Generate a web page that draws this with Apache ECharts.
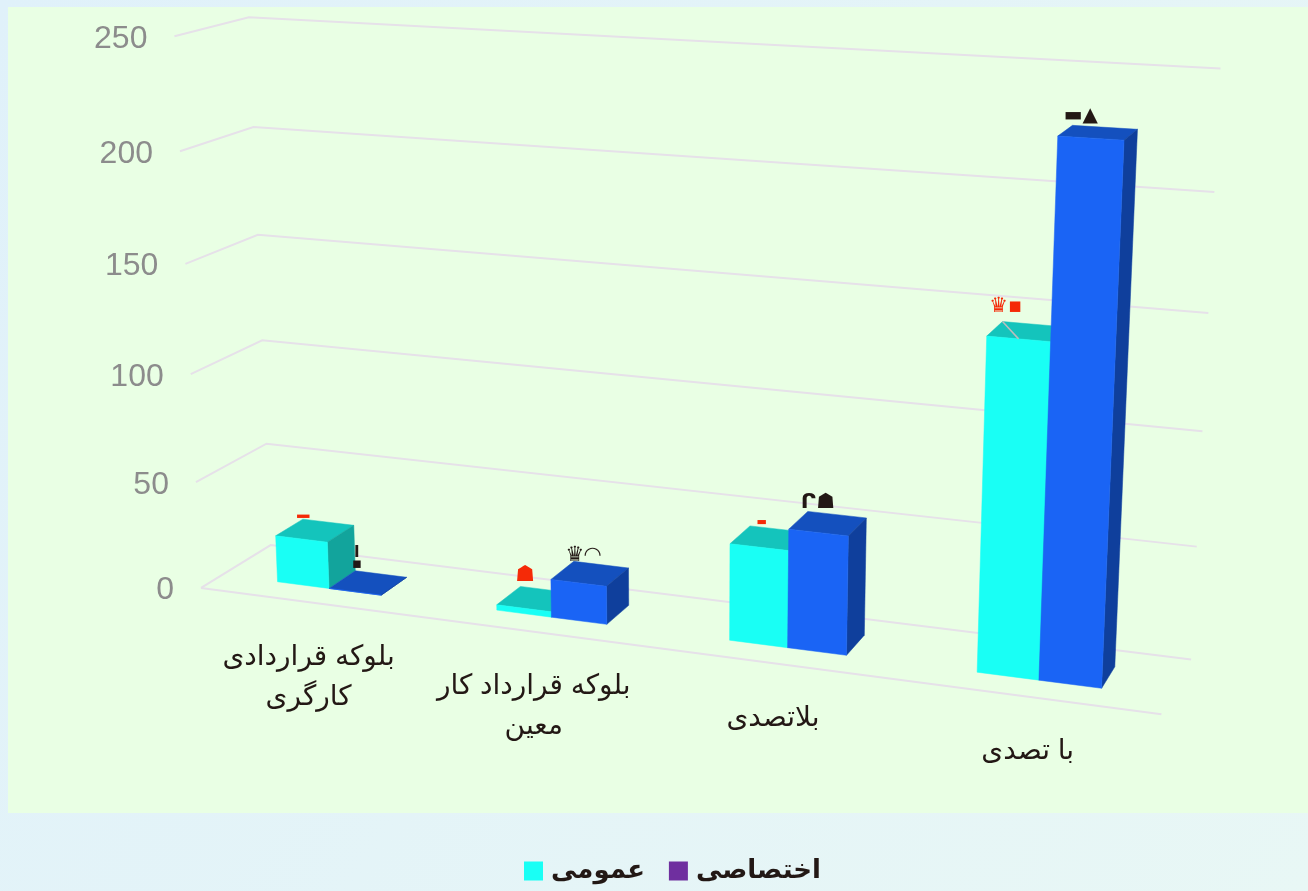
<!DOCTYPE html>
<html><head><meta charset="utf-8">
<style>html,body{margin:0;padding:0;background:#E6F6F8}#c{width:1308px;height:891px}</style>
<script src="https://cdn.jsdelivr.net/npm/echarts@6/dist/echarts.min.js"></script></head>
<body><div id="c"></div>
<script>
const categories = ['بلوکه قراردادی\nکارگری', 'بلوکه قرارداد کار\nمعین', 'بلاتصدی', 'با تصدی'];
const yTicks = [0, 50, 100, 150, 200, 250];
const publicValues = [22, 2.5, 43.5, 144];
const privateValues = [0, 17.5, 53, 227];
const publicName = 'عمومی';
const privateName = 'اختصاصی';
// The source's data labels are garbled glyphs, kept as look-alike text.
const publicLabels = ['━', '☗', '▬', '♛▪'];
const privateLabels = ['I\n▪', '♛◠', 'ᒋ☗', '▬▲'];

// layout
const GL = 8, GT = 7, GW = 1300, GH = 806;
const calib = [
 [0,0,1,270,545],[0,50,1,267,444],[0,100,1,263,341],[0,150,1,258,235],[0,200,1,252,127],[0,250,1,250,16],
 [0,0,0,202,588],[0,50,0,195,483],[0,100,0,189,372],[0,150,0,186,263],[0,200,0,182,153],[0,250,0,173,37],
 [1,0,1,1191,659],[1,50,1,1197,547],[1,100,1,1202,432],[1,150,1,1208,313],[1,200,1,1214,192],[1,250,1,1221,68],
 [1,0,0,1162,714]
];
function solve(A, b) {
  const n = b.length, M = A.map((r, i) => r.concat(b[i]));
  for (let i = 0; i < n; i++) {
    let p = i;
    for (let r = i + 1; r < n; r++) if (Math.abs(M[r][i]) > Math.abs(M[p][i])) p = r;
    [M[i], M[p]] = [M[p], M[i]];
    for (let r = 0; r < n; r++) if (r !== i) {
      const f = M[r][i] / M[i][i];
      for (let c = i; c <= n; c++) M[r][c] -= f * M[i][c];
    }
  }
  return M.map((r, i) => r[n] / r[i]);
}
const cam = (function () {
  const rows = [], rhs = [];
  calib.forEach(([u, t, d, x, y]) => {
    const v = t / 250, X = x / 1000, Y = y / 1000;
    rows.push([u, v, d, 1, 0, 0, 0, 0, -X * u, -X * v, -X * d]); rhs.push(X);
    rows.push([0, 0, 0, 0, u, v, d, 1, -Y * u, -Y * v, -Y * d]); rhs.push(Y);
  });
  const n = 11, A = [], b = [];
  for (let i = 0; i < n; i++) {
    A.push([]); let s = 0;
    for (let j = 0; j < n; j++) { let t = 0; rows.forEach(r => t += r[i] * r[j]); A[i].push(t); }
    rows.forEach((r, k) => s += r[i] * rhs[k]); b.push(s);
  }
  return solve(A, b);
})();
function project(u, v, d) {
  const w = cam[8] * u + cam[9] * v + cam[10] * d + 1;
  return [1000 * (cam[0] * u + cam[1] * v + cam[2] * d + cam[3]) / w,
          1000 * (cam[4] * u + cam[5] * v + cam[6] * d + cam[7]) / w];
}
// pixel from the axes -> normalised floor/wall coordinates -> perspective
function viaAxes(api, idx, val, offset, d) {
  const c = api.coord([idx, val]), band = api.size([1, 0])[0];
  return project((c[0] + offset * band - GL) / GW, (GT + GH - c[1]) / GH, d);
}
const D0 = 0.30, D1 = 0.70, BAR = 0.24;
const labelShift = {
  [publicName]: [[-25, -4], [-22, -15], [-17, -7], [-28, -18]],
  [privateName]: [[-24, -15], [-18, -9], [-19, -12], [-24, -12]]
};
const labelSize = {
  [publicName]: [20, 22, 11, 21],
  [privateName]: [15, 21, 21, 20]
};

function barItem(name, cols, sign, labels, labelColor) {
  return function (params, api) {
    const i = api.value(0), val = api.value(1);
    const o0 = sign < 0 ? -BAR : 0, o1 = sign < 0 ? 0 : BAR;
    const P = (o, t, d) => viaAxes(api, i, t, o, d);
    const fl = P(o0, 0, D0), fr = P(o1, 0, D0), br = P(o1, 0, D1);
    const tl = P(o0, val, D0), tr = P(o1, val, D0), tbl = P(o0, val, D1), tbr = P(o1, val, D1);
    const poly = (pts, fill) => ({ type: 'polygon', shape: { points: pts }, style: { fill, stroke: fill, lineWidth: 0.5 } });
    const children = [
      poly([tl, tr, tbr, tbl], cols[1]),
      poly([fr, br, tbr, tr], cols[2]),
      poly([fl, fr, tr, tl], cols[0])
    ];
    const s = labelShift[name][i], a = P((o0 + o1) / 2, val, D1), size = labelSize[name][i];
    children.push({ type: 'text', style: { text: labels[i], x: a[0] + s[0], y: a[1] + s[1], align: 'center', verticalAlign: 'middle', fill: labelColor, font: 'bold ' + size + 'px "DejaVu Sans"', lineHeight: 11 } });
    return { type: 'group', children };
  };
}
function frameItem(params, api) {
  const t = api.value(1);
  const a = viaAxes(api, 0, t, -0.5, 0), b = viaAxes(api, 0, t, -0.5, 1), c = viaAxes(api, 3, t, 0.5, 1);
  const st = { stroke: '#E6E1E9', lineWidth: 2, fill: null };
  const kids = [
    { type: 'polyline', shape: { points: [a, b, c] }, style: st },
    { type: 'text', style: { text: String(t), x: a[0] - 27, y: a[1] + 2.5, align: 'right', verticalAlign: 'middle', fill: '#8C8C8C', font: '32px "Liberation Sans"' } }
  ];
  if (t === 0) {
    const e = viaAxes(api, 3, 0, 0.5, 0);
    kids.push({ type: 'line', shape: { x1: a[0], y1: a[1], x2: e[0], y2: e[1] }, style: st });
  }
  return { type: 'group', children: kids };
}
function catItem(params, api) {
  const i = api.value(0), p = viaAxes(api, i, 0, 0, 0);
  return { type: 'text', style: { text: categories[i], x: p[0], y: p[1] + 35, align: 'center', verticalAlign: 'top', fill: '#231815', font: '28px "Liberation Sans","DejaVu Sans"', lineHeight: 40 } };
}
function leaderItem(params, api) {
  const a = viaAxes(api, 3, publicValues[3], -BAR, D1), b = viaAxes(api, 3, publicValues[3], -BAR * 0.5, D0);
  return { type: 'line', shape: { x1: a[0], y1: a[1], x2: b[0], y2: b[1] }, style: { stroke: '#BDBDBD', lineWidth: 1.5 } };
}
const chart = echarts.init(document.getElementById('c'), null, { renderer: 'canvas' });
chart.setOption({
  animation: false,
  backgroundColor: { type: 'linear', x: 0, y: 0, x2: 1, y2: 1, colorStops: [{ offset: 0, color: '#E0F1FA' }, { offset: 1, color: '#E8F7F5' }] },
  grid: { left: GL, top: GT, width: GW, height: GH, show: true, backgroundColor: '#E9FFE4', borderWidth: 0 },
  xAxis: { type: 'category', data: categories, show: false },
  yAxis: { type: 'value', min: 0, max: 250, interval: 50, show: false },
  legend: {
    left: 519, top: 853, itemWidth: 19, itemHeight: 19, itemGap: 24, icon: 'rect', selectedMode: false,
    data: [publicName, privateName],
    textStyle: { fontSize: 26, fontWeight: 'bold', color: '#231815', fontFamily: '"DejaVu Sans"', padding: [0, 0, 0, 3] }
  },
  series: [
    { type: 'custom', name: 'grid', silent: true, z: 1, clip: false, renderItem: frameItem, data: yTicks.map(t => [0, t]) },
    { type: 'custom', name: 'labels', silent: true, z: 2, clip: false, renderItem: catItem, data: categories.map((c, i) => [i, 0]) },
    { type: 'custom', name: publicName, silent: true, z: 3, clip: false, itemStyle: { color: '#19FFF5' },
      renderItem: barItem(publicName, ['#19FFF5', '#14C4BC', '#12A49C'], -1, publicLabels, '#F52A07'),
      data: publicValues.map((v, i) => [i, v]) },
    { type: 'custom', name: privateName, silent: true, z: 4, clip: false, itemStyle: { color: '#6F2F9F' },
      renderItem: barItem(privateName, ['#1A64F5', '#1450BE', '#0F3F9C'], 1, privateLabels, '#231815'),
      data: privateValues.map((v, i) => [i, v]) },
    { type: 'custom', name: 'leader', silent: true, z: 3, clip: false, renderItem: leaderItem, data: [[3, 0]] }
  ]
});
</script></body></html>
